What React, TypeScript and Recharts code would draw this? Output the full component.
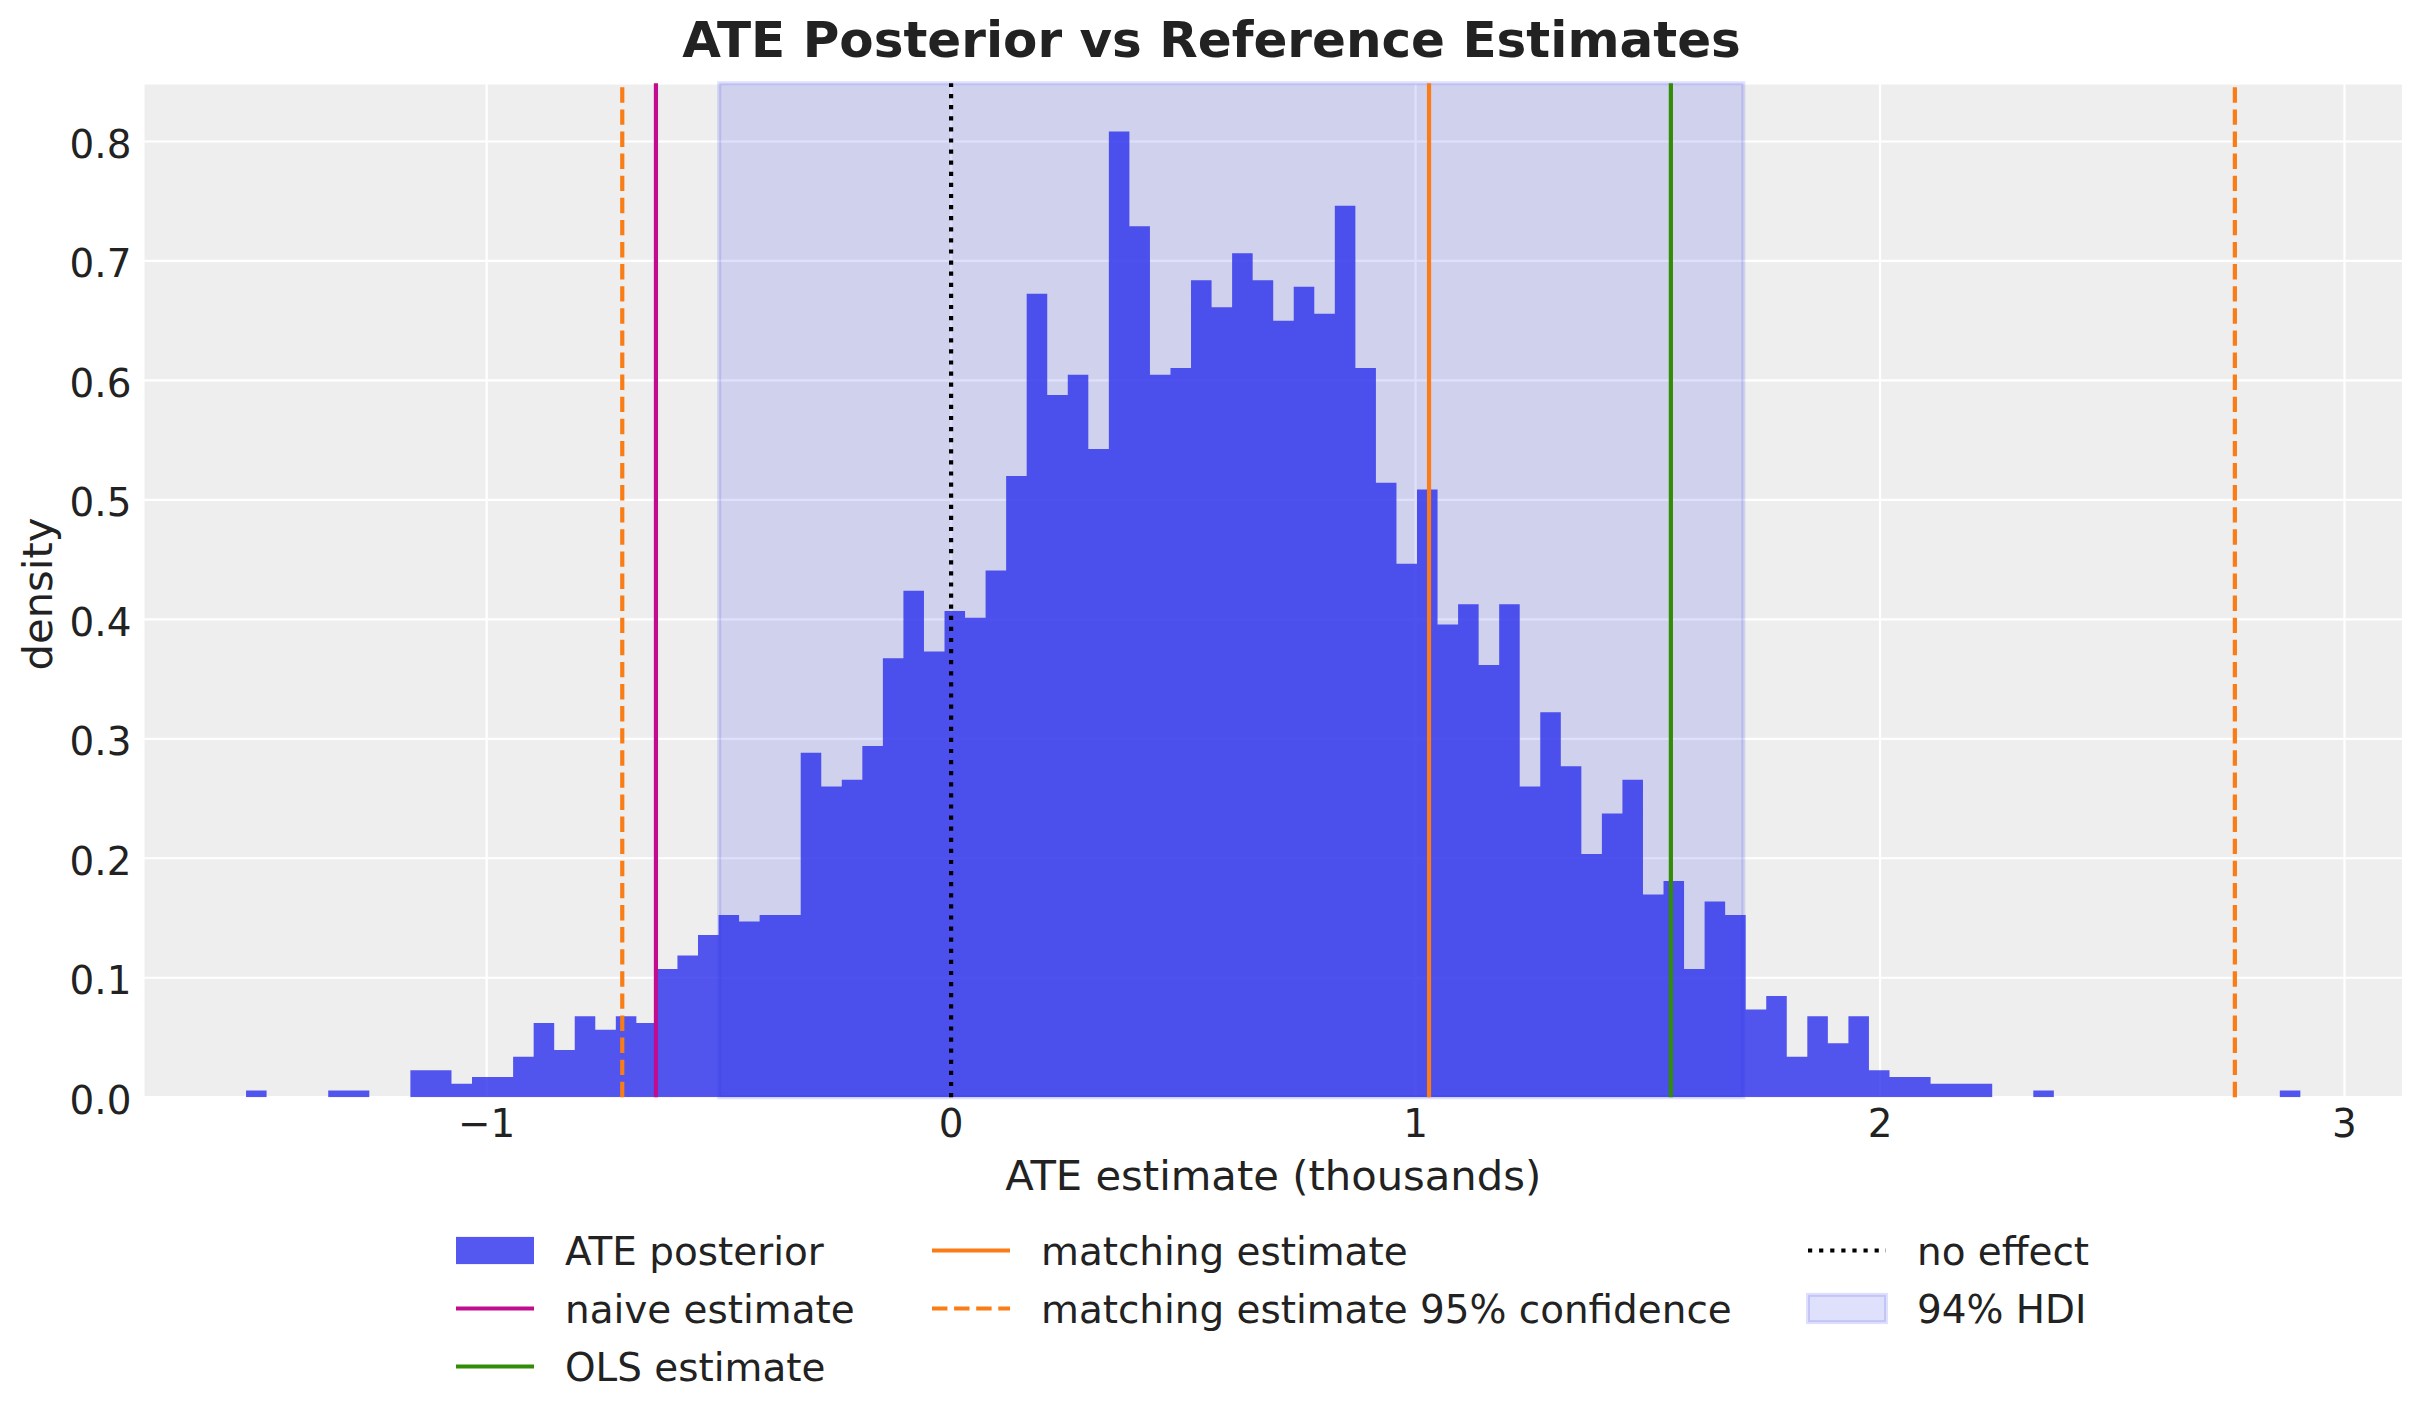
import React from 'react';
import {
  ComposedChart,
  Area,
  XAxis,
  YAxis,
  CartesianGrid,
  ReferenceLine,
  ReferenceArea,
  Legend,
  Customized,
} from 'recharts';

// ---------------- data ----------------
const BIN_START = -1.518;
const BIN_WIDTH = 0.04423;
const DENSITY: number[] = [
  0.0057, 0, 0, 0, 0.0057, 0.0057, 0, 0, 0.0226, 0.0226,
  0.0113, 0.017, 0.017, 0.0339, 0.0622, 0.0396, 0.0678, 0.0565, 0.0678, 0.0622,
  0.1074, 0.1187, 0.1357, 0.1526, 0.147, 0.1526, 0.1526, 0.2883, 0.26, 0.2657,
  0.2939, 0.3674, 0.4239, 0.3731, 0.407, 0.4013, 0.4409, 0.52, 0.6726, 0.5878,
  0.6048, 0.5426, 0.8083, 0.7291, 0.6048, 0.6104, 0.6839, 0.6613, 0.7065, 0.6839,
  0.65, 0.6783, 0.6557, 0.7461, 0.6104, 0.5144, 0.4465, 0.5087, 0.3957, 0.4126,
  0.3617, 0.4126, 0.26, 0.3222, 0.277, 0.2035, 0.2374, 0.2657, 0.1696, 0.1809,
  0.1074, 0.1639, 0.1526, 0.0735, 0.0848, 0.0339, 0.0678, 0.0452, 0.0678, 0.0226,
  0.017, 0.017, 0.0113, 0.0113, 0.0113, 0, 0, 0.0057, 0, 0,
  0, 0, 0, 0, 0, 0, 0, 0, 0, 0.0057,
];
const NAIVE_ESTIMATE = -0.6355;
const OLS_ESTIMATE = 1.5497;
const MATCHING_ESTIMATE = 1.029;
const MATCHING_CI: number[] = [-0.708, 2.764];
const NO_EFFECT = 0;
const HDI: number[] = [-0.4993, 1.7057];

const X_DOMAIN: number[] = [-1.739, 3.126];
const Y_DOMAIN: number[] = [0, 0.8487];
const X_TICKS: number[] = [-1, 0, 1, 2, 3];
const Y_TICKS: number[] = [0, 0.1, 0.2, 0.3, 0.4, 0.5, 0.6, 0.7, 0.8];

const TITLE = 'ATE Posterior vs Reference Estimates';
const X_LABEL = 'ATE estimate (thousands)';
const Y_LABEL = 'density';

// histogram as a step polygon through bin edges
const histData = [
  ...DENSITY.map((d, i) => ({ x: BIN_START + i * BIN_WIDTH, y: d })),
  { x: BIN_START + DENSITY.length * BIN_WIDTH, y: DENSITY[DENSITY.length - 1] },
];

// ---------------- style ----------------
const BLUE = '#2a2eec';
const ORANGE = '#fa7c17';
const GREEN = '#328c06';
const MAGENTA = '#c10c90';
const TEXT = '#222222';
const FONT = 'DejaVu Sans';
const LW = 4.2;
const DASH = '15.4 6.7';
const DOT = '4.2 6.9';

type LegendItem = {
  label: string;
  kind: 'patch' | 'line';
  color: string;
  opacity: number;
  dash?: string;
  col: number;
  row: number;
};

const LEGEND_ITEMS: LegendItem[] = [
  { label: 'ATE posterior', kind: 'patch', color: BLUE, opacity: 0.8, col: 0, row: 0 },
  { label: 'naive estimate', kind: 'line', color: MAGENTA, opacity: 1, col: 0, row: 1 },
  { label: 'OLS estimate', kind: 'line', color: GREEN, opacity: 1, col: 0, row: 2 },
  { label: 'matching estimate', kind: 'line', color: ORANGE, opacity: 1, col: 1, row: 0 },
  { label: 'matching estimate 95% confidence', kind: 'line', color: ORANGE, opacity: 1, dash: DASH, col: 1, row: 1 },
  { label: 'no effect', kind: 'line', color: 'black', opacity: 1, dash: DOT, col: 2, row: 0 },
  { label: '94% HDI', kind: 'patch', color: BLUE, opacity: 0.15, col: 2, row: 1 },
];

const COL_X = [456, 932, 1808];
const ROW_Y = [70.5, 128.5, 186.5];
const HANDLE_W = 78;
const LEGEND_TOP = 1180;

const LegendContent = () => (
  <svg width={2423} height={240} style={{ display: 'block' }}>
    {LEGEND_ITEMS.map((it) => {
      const x = COL_X[it.col];
      const y = ROW_Y[it.row];
      return (
        <g key={it.label}>
          {it.kind === 'patch' ? (
            <rect
              x={x}
              y={y - 13.6}
              width={HANDLE_W}
              height={27.2}
              fill={it.color}
              fillOpacity={it.opacity}
              stroke={it.opacity < 0.5 ? it.color : 'none'}
              strokeOpacity={it.opacity}
              strokeWidth={it.opacity < 0.5 ? 4 : 0}
            />
          ) : (
            <line
              x1={x}
              x2={x + HANDLE_W}
              y1={y}
              y2={y}
              stroke={it.color}
              strokeWidth={LW}
              strokeDasharray={it.dash}
            />
          )}
          <text
            x={x + HANDLE_W + 31}
            y={y + 14.2}
            fontFamily={FONT}
            fontSize={38.9}
            fill={TEXT}
          >
            {it.label}
          </text>
        </g>
      );
    })}
  </svg>
);

const TitleAndYLabel = () => (
  <g>
    <text
      x={1211.5}
      y={57}
      textAnchor="middle"
      fontFamily={FONT}
      fontWeight="bold"
      fontSize={50}
      fill={TEXT}
    >
      {TITLE}
    </text>
    <text
      x={52}
      y={594}
      transform="rotate(-90 52 594)"
      textAnchor="middle"
      fontFamily={FONT}
      fontSize={41.7}
      fill={TEXT}
    >
      {Y_LABEL}
    </text>
  </g>
);

const fmtX = (v: number) => (v < 0 ? '\u2212' + Math.abs(v) : String(v));
const fmtY = (v: number) => v.toFixed(1);

export default function App() {
  return (
    <div style={{ position: 'absolute', left: 0, top: 0, width: 2423, height: 1423, background: 'white' }}>
      <ComposedChart
        width={2423}
        height={1423}
        data={histData}
        margin={{ top: 83.3, right: 20, bottom: 225.8, left: 0 }}
      >
        <CartesianGrid fill="#eeeeee" stroke="#ffffff" strokeWidth={2.2} />
        <XAxis
          dataKey="x"
          type="number"
          domain={X_DOMAIN}
          ticks={X_TICKS}
          allowDataOverflow
          axisLine={false}
          tickLine={false}
          tickSize={0}
          tickMargin={12.5}
          height={100}
          tickFormatter={fmtX}
          tick={{ fontFamily: FONT, fontSize: 38.9, fill: TEXT }}
          label={{
            value: X_LABEL,
            position: 'insideBottom',
            offset: 7.2,
            fontFamily: FONT,
            fontSize: 41.7,
            fill: TEXT,
          }}
        />
        <YAxis
          type="number"
          domain={Y_DOMAIN}
          ticks={Y_TICKS}
          allowDataOverflow
          axisLine={false}
          tickLine={false}
          tickSize={0}
          tickMargin={12}
          width={143.4}
          tickFormatter={fmtY}
          tick={{ fontFamily: FONT, fontSize: 38.9, fill: TEXT, dy: 2.5 }}
        />
        <Area
          dataKey="y"
          type="stepAfter"
          fill={BLUE}
          fillOpacity={0.8}
          stroke="none"
          dot={false}
          activeDot={false}
          isAnimationActive={false}
        />
        <ReferenceArea
          x1={HDI[0]}
          x2={HDI[1]}
          fill={BLUE}
          fillOpacity={0.15}
          stroke={BLUE}
          strokeOpacity={0.15}
          strokeWidth={4}
        />
        <ReferenceLine x={NAIVE_ESTIMATE} stroke={MAGENTA} strokeWidth={LW} />
        <ReferenceLine x={OLS_ESTIMATE} stroke={GREEN} strokeWidth={LW} />
        <ReferenceLine x={MATCHING_ESTIMATE} stroke={ORANGE} strokeWidth={LW} />
        <ReferenceLine x={MATCHING_CI[0]} stroke={ORANGE} strokeWidth={LW} strokeDasharray={DASH} />
        <ReferenceLine x={MATCHING_CI[1]} stroke={ORANGE} strokeWidth={LW} strokeDasharray={DASH} />
        <ReferenceLine x={NO_EFFECT} stroke="black" strokeWidth={LW} strokeDasharray={DOT} />
        <Customized component={TitleAndYLabel} />
        <Legend
          layout="vertical"
          align="center"
          verticalAlign="middle"
          content={LegendContent}
          wrapperStyle={{ left: 0, top: LEGEND_TOP, width: 2423, height: 240 }}
        />
      </ComposedChart>
    </div>
  );
}
